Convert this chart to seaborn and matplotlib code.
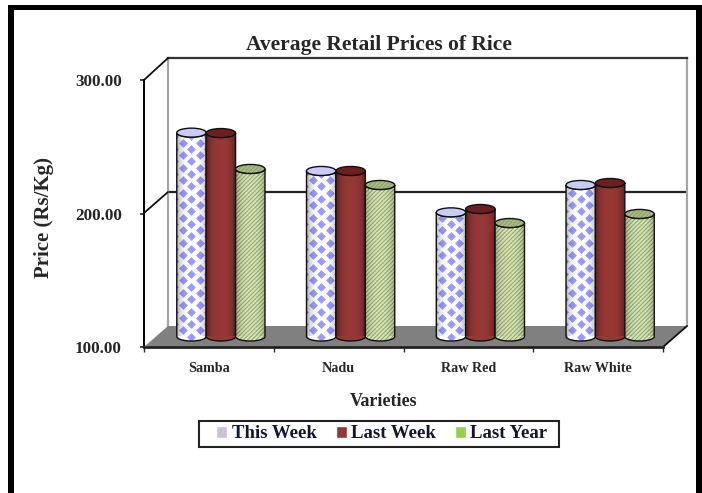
#!/usr/bin/env python3
"""Average retail prices of rice, drawn as pseudo 3D cylinders."""

import numpy as np
import pandas as pd
import matplotlib
matplotlib.use('Agg')
import matplotlib.pyplot as plt
import seaborn as sns
from matplotlib.patches import PathPatch, Polygon, Rectangle, Ellipse
from matplotlib.path import Path

varieties = ['Samba', 'Nadu', 'Raw Red', 'Raw White']
this_week = [252.7, 224, 193, 213.5]
last_week = [252.4, 224, 195.5, 215]
last_year = [225.5, 213.5, 185, 191.8]
series_names = ['This Week', 'Last Week', 'Last Year']
y_ticks = [100, 200, 300]

W, H = 702, 493

sns.set_style('white')
plt.rcParams['font.family'] = ['Liberation Serif', 'DejaVu Serif']
plt.rcParams['font.weight'] = 'bold'
plt.rcParams['hatch.linewidth'] = 0.7

df = pd.DataFrame({
    'variety': varieties * 3,
    'series': np.repeat(series_names, 4),
    'price': this_week + last_week + last_year,
})


def px_box(left, top, right, bottom):
    return [left / W, 1 - bottom / H, (right - left) / W, (bottom - top) / H]


def px_xy(x, y):
    return (x / W, 1 - y / H)


fig = plt.figure(figsize=(W / 100, H / 100), dpi=100, facecolor='white')

# Outer black frame (there is no bottom edge in the original)
for left, top, right, bottom in [(8, 5, 702, 10), (8, 5, 14, 493), (696, 5, 702, 493)]:
    x, y, w, h = px_box(left, top, right, bottom)
    fig.add_artist(Rectangle((x, y), w, h, transform=fig.transFigure, fc='black', ec='none'))

# Back wall, shifted up and to the right of the front plane
wall_ax = fig.add_axes(px_box(168, 58, 687, 326), facecolor='none', zorder=1)
wall_ax.set_xlim(-0.5, 3.5)
wall_ax.set_ylim(100, 300)
wall_ax.set_xticks([])
wall_ax.set_yticks([])
wall_ax.axhline(200, color='#222222', lw=1.6)
wall_ax.spines['top'].set(color='#333333', lw=1.6)
wall_ax.spines['left'].set(color='#a6a6a6', lw=1.6)
wall_ax.spines['right'].set(color='#a6a6a6', lw=1.6)
wall_ax.spines['bottom'].set_visible(False)

# Floor, depth lines and the legend box
floor_ax = fig.add_axes([0, 0, 1, 1], facecolor='none', zorder=1.5)
floor_ax.axis('off')
floor_ax.add_patch(Polygon([px_xy(144, 347), px_xy(663, 347), px_xy(687, 326), px_xy(168, 326)],
                           closed=True, transform=fig.transFigure, fc='#808080', ec='none'))
for x0, y0, x1, y1 in [(144, 80, 168, 58), (144, 213, 168, 192), (663, 347, 687, 326)]:
    p0, p1 = px_xy(x0, y0), px_xy(x1, y1)
    floor_ax.plot([p0[0], p1[0]], [p0[1], p1[1]], color='#111111', lw=1.3,
                  transform=fig.transFigure)
x, y, w, h = px_box(199, 421, 559, 447)
floor_ax.add_patch(Rectangle((x, y), w, h, transform=fig.transFigure, fc='white',
                             ec='#222222', lw=1.5))

# Front plane carries the real axes
ax = fig.add_axes(px_box(144, 80, 663, 347), facecolor='none', zorder=2)
ax.set_xlim(-0.5, 3.5)
ax.set_ylim(100, 300)
sns.despine(ax=ax)
ax.spines['left'].set(color='black', lw=1.4)
ax.spines['bottom'].set(color='#222222', lw=2)
ax.set_yticks(y_ticks)
ax.set_yticklabels([f'{v:.2f}' for v in y_ticks], fontsize=12.3, fontweight='bold')
ax.tick_params(axis='y', left=True, length=3, width=1.2, pad=13)
ax.set_xticks([-0.5, 0.5, 1.5, 2.5, 3.5])
ax.set_xticklabels([])
ax.tick_params(axis='x', bottom=True, length=3.5, width=1.0)
ax.set_xticks(range(4), varieties, minor=True, fontsize=10.2, fontweight='bold')
ax.tick_params(axis='x', which='minor', length=0, pad=11)
fig.text(44 / W, 1 - 217 / H, 'Price (Rs/Kg)', rotation=90, ha='center', va='center',
         fontsize=15, fontweight='bold')
fig.text(384 / W, 1 - 401 / H, 'Varieties', ha='center', va='center',
         fontsize=13, fontweight='bold')
fig.text(379 / W, 1 - 45 / H, 'Average Retail Prices of Rice', ha='center', va='center',
         fontsize=15.5, fontweight='bold')

# Bars sit half way into the depth
bar_ax = fig.add_axes(px_box(156, 69.5, 675, 336.5), facecolor='none', zorder=3)
palette = ['#CCC0DA', '#953735', '#92D050']
sns.barplot(data=df, x='variety', y='price', hue='series', order=varieties,
            hue_order=series_names, palette=palette, width=0.68, gap=0, saturation=1,
            ax=bar_ax)
bar_ax.set_xlim(-0.5, 3.5)
bar_ax.set_ylim(100, 300)

sns.move_legend(bar_ax, loc='center', bbox_to_anchor=(382 / W, 1 - 434 / H),
                bbox_transform=fig.transFigure, ncol=3, title=None, frameon=False,
                fontsize=13.5, handlelength=0.58, handleheight=0.58, handletextpad=0.25,
                columnspacing=1.0, borderpad=0)
legend = bar_ax.get_legend()
legend.set_zorder(200)
for text in legend.get_texts():
    text.set_fontweight('bold')
    text.set_color('#101830')

bar_ax.axis('off')
legend.set_visible(True)

# Rebuild each seaborn bar as a cylinder, using its own position and height
px_x = 4 / 519
px_y = 200 / 267
ell_h = 4.5 * px_y
styles = [
    {'body': 'white', 'top': '#C9CDF5', 'hatch': None, 'shade': 0.30},
    {'body': '#953735', 'top': '#6B1F1E', 'hatch': None, 'shade': 0.40},
    {'body': '#D7E4BD', 'top': '#A9B98A', 'hatch': '////////', 'shade': 0.25},
]
shade_u = np.linspace(-1, 1, 64)
shade_alpha = np.abs(shade_u) ** 3
base = bar_ax.get_ylim()[0]

for s_idx, (container, style) in enumerate(zip(bar_ax.containers, styles)):
    for c_idx, bar in enumerate(container):
        x0, w, top = bar.get_x(), bar.get_width(), bar.get_height() + bar.get_y()
        bar.set_visible(False)
        xc = x0 + w / 2
        order = 10 + c_idx * 10 + s_idx

        t = np.linspace(np.pi, 2 * np.pi, 30)
        low = np.column_stack([xc + w / 2 * np.cos(t), base + ell_h * np.sin(t)])
        high = np.column_stack([xc + w / 2 * np.cos(t), top + ell_h * np.sin(t)])[::-1]
        verts = np.vstack([low, high, low[:1]])
        body = Path(verts, closed=True)

        edge = '#8AA35A' if style['hatch'] else style['body']
        patch = PathPatch(body, fc=style['body'], ec=edge, hatch=style['hatch'], lw=0,
                          zorder=order, clip_on=False)
        bar_ax.add_patch(patch)

        # Diamond pattern for the first series
        if s_idx == 0:
            col_step, row_step = 8.5 * px_x, 12.5 * px_y
            xs, ys = [], []
            for col in range(-2, 3):
                offset = row_step / 2 if col % 2 else 0
                for row in np.arange(base - row_step, top + row_step, row_step):
                    xs.append(xc + col * col_step)
                    ys.append(row + offset)
            dots = bar_ax.scatter(xs, ys, marker='D', s=20, color='#9999FF', linewidths=0,
                                  zorder=order + 0.1)
            dots.set_clip_path(patch)
            dots.set_clip_box(None)

        # Horizontal light falloff
        rgba = np.zeros((1, 64, 4))
        rgba[..., 3] = shade_alpha * style['shade']
        img = bar_ax.imshow(rgba, extent=(x0, x0 + w, base - ell_h, top + ell_h),
                            aspect='auto', zorder=order + 0.2, interpolation='bilinear')
        img.set_clip_path(patch)
        img.set_clip_box(None)

        bar_ax.add_patch(PathPatch(body, fc='none', ec='#101010', lw=1.0, zorder=order + 0.3,
                                   clip_on=False))
        bar_ax.add_patch(Ellipse((xc, top), w, 2 * ell_h, fc=style['top'], ec=edge, lw=0,
                                 hatch=style['hatch'], zorder=order + 0.4))
        bar_ax.add_patch(Ellipse((xc, top), w, 2 * ell_h, fc='none', ec='#101010', lw=1.0,
                                 zorder=order + 0.5))

bar_ax.set_xlim(-0.5, 3.5)
bar_ax.set_ylim(100, 300)

fig.savefig('out.png', dpi=100)
